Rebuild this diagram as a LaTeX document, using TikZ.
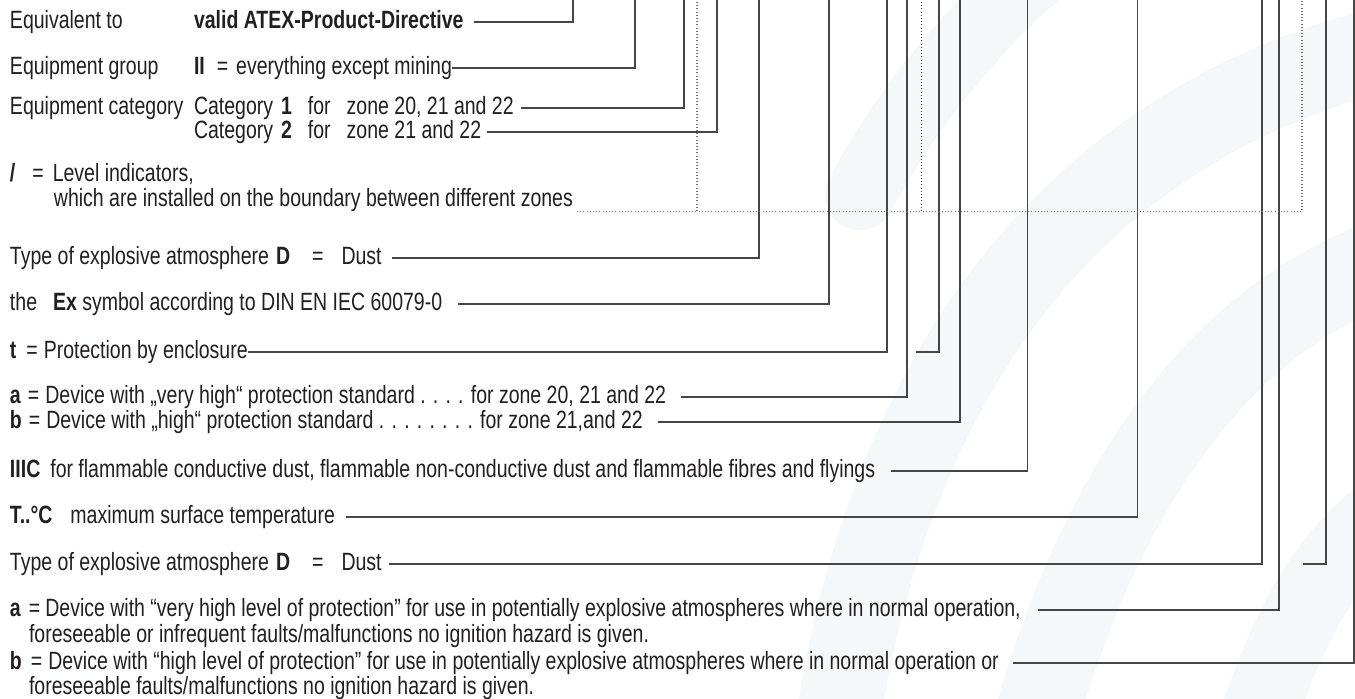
\documentclass[tikz,border=0pt]{standalone}
\usepackage{fontspec}
\setmainfont{Liberation Sans}[FakeStretch=0.78]
\usetikzlibrary{calc}
\definecolor{txt}{RGB}{35,31,32}
\definecolor{ln}{RGB}{70,70,70}
\definecolor{wm}{RGB}{246,247,249}
\begin{document}
\begin{tikzpicture}[x=0.5pt,y=-0.5pt,
  lbl/.style={anchor=base west, inner sep=0pt, outer sep=0pt, text height=9pt, text depth=2.5pt,
    font=\fontsize{12.5pt}{12.75pt}\selectfont, text=txt},
  conn/.style={draw=ln, line width=0.55pt},
  dotl/.style={draw=black!55, line width=0.6pt, dash pattern=on 0.55pt off 1.05pt},
  dotk/.style={draw=black!80, line width=0.5pt, dash pattern=on 0.5pt off 1.1pt},
  wband/.style={draw=wm, line cap=round}]
\useasboundingbox (0,0) rectangle (1355,698);
\fill[white] (0,0) rectangle (1355,698);
% watermark
\begin{scope}
\clip (0,0) rectangle (1355,698);
\draw[wband, line width=35pt] (860,195) .. controls (900,120) and (960,40) .. (1040,-30);
\draw[wband, line width=42pt] (835,740) .. controls (880,420) and (1040,120) .. (1420,40);
\draw[wband, line width=42pt] (1030,740) .. controls (1100,480) and (1230,300) .. (1420,250);
\draw[wband, line width=38pt] (1250,740) .. controls (1290,620) and (1330,540) .. (1420,490);
\end{scope}
% texts
\node[lbl] (eqto) at (10,28.5) {Equivalent to};
\node[lbl] (atex) at (194,28.5) {\textbf{valid ATEX-Product-Directive}};
\node[lbl] (eqgr) at (10,74.5) {Equipment group};
\node[lbl] (grp) at (194,74.5) {\textbf{II}\hspace{6pt}=\hspace{4pt}everything except mining};
\node[lbl] (eqcat) at (10,114.5) {Equipment category};
\node[lbl] (cat1) at (194,114.5) {Category\hspace{4pt}\textbf{1}\hspace{8pt}for\hspace{8pt}zone 20, 21 and 22};
\node[lbl] (cat2) at (194,138.5) {Category\hspace{4pt}\textbf{2}\hspace{8pt}for\hspace{8pt}zone 21 and 22};
\node[lbl] (lvl) at (10,181) {\textbf{/}\hspace{8.5pt}=\hspace{4.5pt}Level indicators,};
\node[lbl] (which) at (54,206.5) {which are installed on the boundary between different zones};
\node[lbl] (dust1) at (10,264.5) {Type of explosive atmosphere\hspace{3.5pt}\textbf{D}\hspace{11pt}=\hspace{9pt}Dust};
\node[lbl] (ex) at (10,310.5) {the\hspace{8pt}\textbf{Ex} symbol according to DIN EN IEC 60079-0};
\node[lbl] (tp) at (10,358.5) {\textbf{t}\hspace{5pt}=\hspace{3pt}Protection by enclosure};
\node[lbl] (ash) at (10,403.5) {\textbf{a}\hspace{3.5pt}=\hspace{3pt}Device with „very high“ protection standard . . . . for zone 20, 21 and 22};
\node[lbl] (bsh) at (10,428.5) {\textbf{b}\hspace{3.5pt}=\hspace{3pt}Device with „high“ protection standard . . . . . . . . for zone 21,and 22};
\node[lbl] (iiic) at (10,477.5) {\textbf{IIIC}\hspace{5pt}for flammable conductive dust, flammable non-conductive dust and flammable fibres and flyings};
\node[lbl] (temp) at (10,523.5) {\textbf{T..°C}\hspace{9pt}maximum surface temperature};
\node[lbl] (dust2) at (10,570.5) {Type of explosive atmosphere\hspace{3.5pt}\textbf{D}\hspace{11pt}=\hspace{9pt}Dust};
\node[lbl] (alg) at (10,616.5) {\textbf{a}\hspace{4pt}=\hspace{2.5pt}Device with “very high level of protection” for use in potentially explosive atmospheres where in normal operation,};
\node[lbl] (alg2) at (29,642) {foreseeable or infrequent faults/malfunctions no ignition hazard is given.};
\node[lbl] (blg) at (10,669.5) {\textbf{b}\hspace{4.5pt}=\hspace{3pt}Device with “high level of protection” for use in potentially explosive atmospheres where in normal operation or};
\node[lbl] (blg2) at (29,694.5) {foreseeable faults/malfunctions no ignition hazard is given.};
% top ends
\coordinate (tA) at (573,0);
\coordinate (tB) at (635,0);
\coordinate (tC) at (684,0);
\coordinate (tD) at (717,0);
\coordinate (tE) at (759,0);
\coordinate (tF) at (829,0);
\coordinate (tG) at (887,0);
\coordinate (tH) at (907,0);
\coordinate (tI) at (939,0);
\coordinate (tJ) at (960,0);
\coordinate (tK) at (1027.5,0);
\coordinate (tL) at (1137.5,0);
\coordinate (tM) at (1262,0);
\coordinate (tN) at (1279,0);
\coordinate (tO) at (1326,0);
\coordinate (tP) at (1354,0);
\coordinate (dT1) at (697,0);
\coordinate (dB1) at (697,211);
\coordinate (dT2) at (921.5,0);
\coordinate (dB2) at (921.5,211);
\coordinate (dT3) at (1302,0);
\coordinate (s1) at (916,352);
\coordinate (s2) at (1302.7,564);
% connectors
\draw[conn] ($(atex.east)+(11,0)$) -| (tA);
\draw[conn] (grp.east) -| (tB);
\draw[conn] ($(cat1.east)+(7,0)$) -| (tC);
\draw[conn] ($(cat2.east)+(6,0)$) -| (tD);
\draw[conn] ($(dust1.east)+(10,0)$) -| (tE);
\draw[conn] ($(ex.east)+(16,0)$) -| (tF);
\draw[conn] (tp.east) -| (tG);
\draw[conn] ($(ash.east)+(15,0)$) -| (tH);
\draw[conn] (s1) -| (tI);
\draw[conn] ($(bsh.east)+(15,0)$) -| (tJ);
\draw[conn] ($(iiic.east)+(16,0)$) -| (tK);
\draw[conn] ($(temp.east)+(11,0)$) -| (tL);
\draw[conn] ($(dust2.east)+(7,0)$) -| (tM);
\draw[conn] ($(alg.east)+(17,0)$) -| (tN);
\draw[conn] (s2) -| (tO);
\draw[conn] ($(blg.east)+(14,0)$) -| (tP);
% dotted
\draw[dotl] ($(which.base east)+(4,5)$) -| (dT3);
\draw[dotl] (dB1) -- (dT1);
\draw[dotk] (dB2) -- (dT2);
\end{tikzpicture}
\end{document}
